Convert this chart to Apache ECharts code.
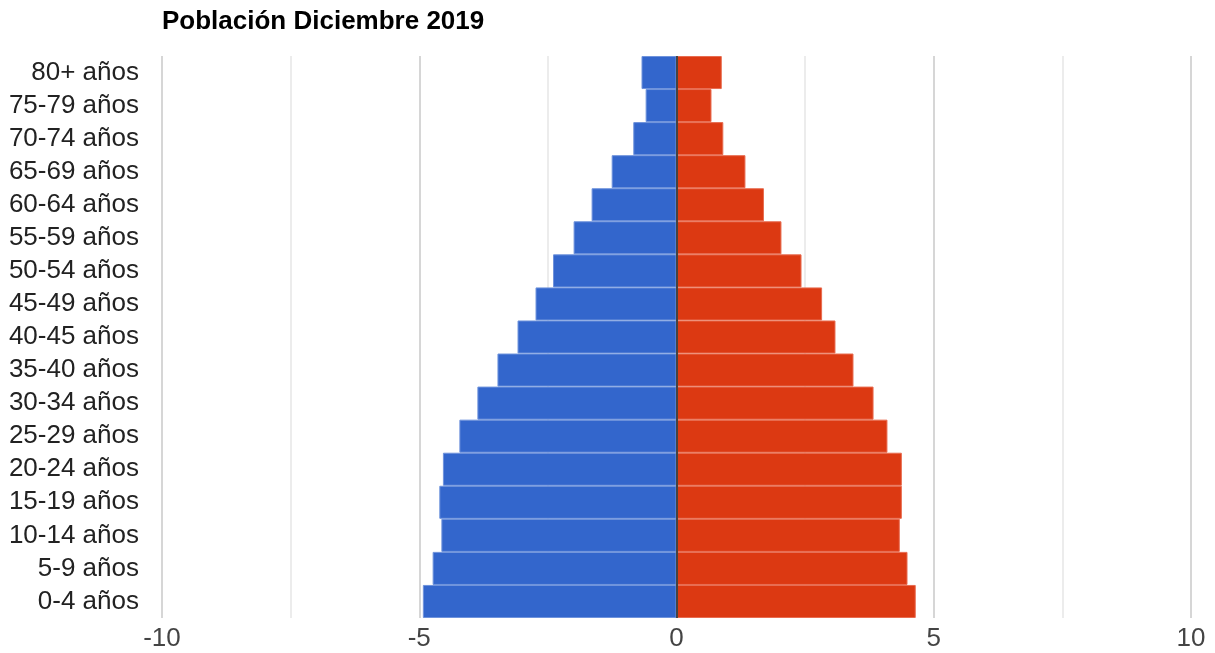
<!DOCTYPE html>
<html>
<head>
<meta charset="utf-8">
<script src="https://cdn.jsdelivr.net/npm/echarts@6/dist/echarts.min.js"></script>
<style>
  html, body { margin: 0; padding: 0; background: #fff; }
  #chart { width: 1215px; height: 653px; }
</style>
</head>
<body>
<div id="chart"></div>
<script>
// grupos de edad, de abajo hacia arriba
const ageGroups = [
  "0-4 años", "5-9 años", "10-14 años", "15-19 años", "20-24 años",
  "25-29 años", "30-34 años", "35-40 años", "40-45 años", "45-49 años",
  "50-54 años", "55-59 años", "60-64 años", "65-69 años", "70-74 años",
  "75-79 años", "80+ años"
];
// hombres (lado izquierdo, valores negativos)
const menValues = [
  -4.93, -4.74, -4.57, -4.61, -4.54,
  -4.22, -3.87, -3.48, -3.09, -2.74,
  -2.40, -2.00, -1.65, -1.26, -0.84,
  -0.60, -0.68
];
// mujeres (lado derecho)
const womenValues = [
  4.65, 4.49, 4.34, 4.38, 4.38,
  4.10, 3.83, 3.44, 3.09, 2.83,
  2.43, 2.04, 1.70, 1.34, 0.91,
  0.68, 0.88
];
const xTicks = [-10, -5, 0, 5, 10];

const font = "'Liberation Sans', Arial, sans-serif";
const chart = echarts.init(document.getElementById("chart"));

const option = {
  animation: false,
  title: {
    text: "Población Diciembre 2019",
    left: 157,
    top: 4,
    textStyle: {
      fontFamily: font,
      fontSize: 26,
      fontWeight: "bold",
      color: "#000"
    }
  },
  grid: {
    left: 162,
    right: 24,
    top: 56,
    bottom: 35
  },
  xAxis: {
    type: "value",
    min: -10,
    max: 10,
    interval: 2.5,
    axisLine: { show: false },
    axisTick: { show: false },
    axisLabel: {
      fontFamily: font,
      fontSize: 26,
      color: "#444",
      margin: 8,
      formatter: (v) => (xTicks.includes(v) ? String(v) : "")
    },
    splitLine: {
      lineStyle: { color: ["#d6d6d6", "#ececec"], width: 2 }
    }
  },
  yAxis: {
    type: "category",
    data: ageGroups,
    axisLine: { show: false },
    axisTick: { show: false },
    axisLabel: {
      interval: 0,
      fontFamily: font,
      fontSize: 26,
      color: "#222",
      margin: 23
    }
  },
  series: [
    {
      name: "Hombres",
      type: "bar",
      stack: "total",
      data: menValues,
      barCategoryGap: "0%",
      z: 2,
      itemStyle: {
        color: "#3366cc",
        borderColor: "#6f93dc",
        borderWidth: 1
      }
    },
    {
      name: "Mujeres",
      type: "bar",
      stack: "total",
      data: womenValues,
      barCategoryGap: "0%",
      z: 3,
      itemStyle: {
        color: "#dc3912",
        borderColor: "#e86c50",
        borderWidth: 1
      },
      markLine: {
        silent: true,
        symbol: ["none", "none"],
        label: { show: false },
        lineStyle: { color: "#444", width: 2, type: "solid" },
        data: [{ xAxis: 0 }]
      }
    }
  ]
};

chart.setOption(option);
</script>
</body>
</html>
